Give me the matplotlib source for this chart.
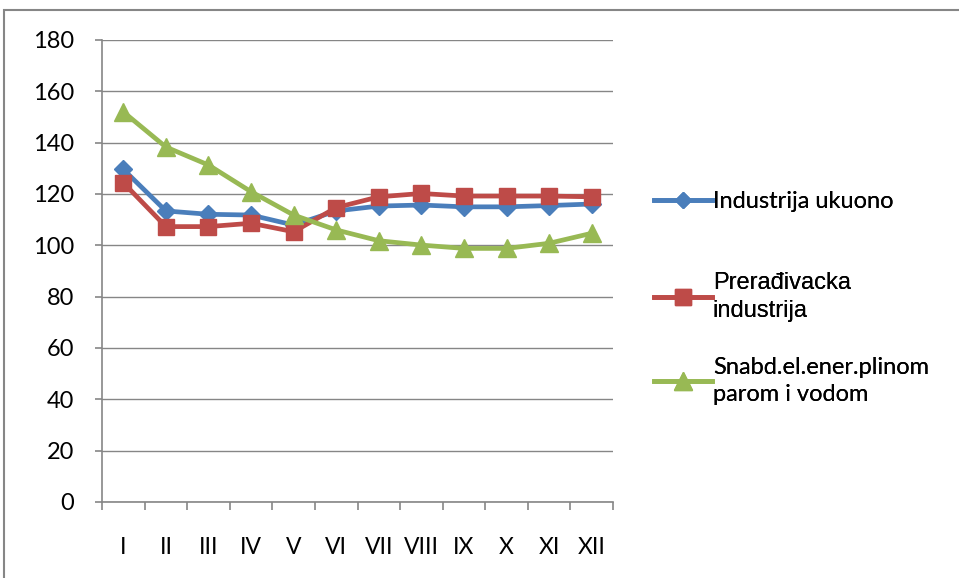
#!/usr/bin/env python3
import numpy as np
import matplotlib.pyplot as plt
from matplotlib.patches import Rectangle
from matplotlib.lines import Line2D

# === data ===
MONTHS = ["I", "II", "III", "IV", "V", "VI", "VII", "VIII", "IX", "X", "XI", "XII"]
ukupno = [129.6, 113.4, 112.1, 111.8, 107.9, 113.4, 115.3, 115.7, 115.0, 115.0, 115.5, 116.1]
preradjivacka = [124.4, 107.3, 107.3, 108.6, 105.3, 114.7, 118.9, 120.2, 119.2, 119.2, 119.2, 118.9]
snabd = [152.0, 138.3, 131.3, 120.9, 111.8, 106.0, 101.8, 100.1, 98.8, 98.8, 100.8, 104.7]

LABELS = ["Industrija ukuono", "Prerađivacka\nindustrija", "Snabd.el.ener.plinom\nparom i vodom"]
COLORS = ["#4A7EBB", "#BE4B48", "#98B954"]
MARKERS = ["D", "s", "^"]
MSIZES = [9, 12, 13]
GRID = "#868686"

W, H = 959, 578
fig = plt.figure(figsize=(W / 100, H / 100), dpi=100)
ax = fig.add_axes([102 / W, (H - 502) / H, (613 - 102) / W, (502 - 40) / H])

x = np.arange(len(MONTHS))
handles = []
for vals, col, mk, ms in zip([ukupno, preradjivacka, snabd], COLORS, MARKERS, MSIZES):
    ln, = ax.plot(x, vals, color=col, lw=3.4, marker=mk, markersize=ms,
                  markerfacecolor=col, markeredgecolor=col, clip_on=False, zorder=3)
    handles.append(ln)

ax.set_xlim(-0.5, len(MONTHS) - 0.5)
ax.set_ylim(0, 180)
ax.set_yticks(np.arange(0, 181, 20))
ax.grid(True, axis="y", color=GRID, lw=1.0)
ax.set_axisbelow(True)

for s in ["top", "right"]:
    ax.spines[s].set_visible(False)
for s in ["left", "bottom"]:
    ax.spines[s].set_color(GRID)
    ax.spines[s].set_linewidth(1.2)

# x ticks at category boundaries, labels at centres
ax.set_xticks(np.arange(-0.5, len(MONTHS), 1.0))
ax.set_xticklabels([])
ax.set_xticks(x, minor=True)
ax.set_xticklabels(MONTHS, minor=True, fontsize=16.5, family="Lato")
ax.tick_params(axis="x", which="major", length=6, color=GRID, width=1.2)
ax.tick_params(axis="x", which="minor", length=0, pad=25)
ax.tick_params(axis="y", length=5, color=GRID, width=1.2, pad=15, labelsize=17)
for t in ax.get_yticklabels():
    t.set_family("Lato")

# legend — one entry per block, Excel-style spacing
legend_y = [202, 297, 381]
fonts = ["Lato", "Liberation Sans", "Lato"]
for h, lab, yy, fam in zip(handles, LABELS, legend_y, fonts):
    proxy = Line2D([], [], color=h.get_color(), lw=3.4, marker=h.get_marker(),
                   markersize=h.get_markersize() * 0.95)
    leg = fig.legend([proxy], [lab], loc="center left",
                     bbox_to_anchor=(642 / W, (H - yy) / H), frameon=False,
                     handlelength=2.45, handletextpad=0.05, borderpad=0,
                     prop={"family": fam, "size": 17})
    for t in leg.get_texts():
        t.set_linespacing(1.35)
    fig.add_artist(leg)

# chart-area border
fig.add_artist(Rectangle((4 / W, -0.1), 1.1, 1.1 - 10 / H, transform=fig.transFigure,
                         fill=False, edgecolor=GRID, lw=1.5))

fig.savefig("out.png", dpi=100)
